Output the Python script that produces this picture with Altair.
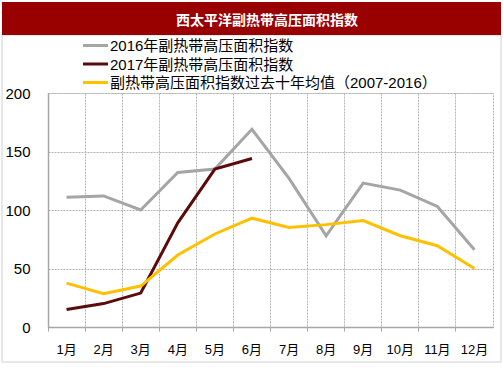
import altair as alt
import pandas as pd

months = ["1月", "2月", "3月", "4月", "5月", "6月", "7月", "8月", "9月", "10月", "11月", "12月"]
s2016 = [111, 112, 100, 132, 135, 169, 127, 78, 123, 117, 103, 66]
s2017 = [15, 20, 29, 89, 135, 144, None, None, None, None, None, None]
savg = [37.5, 28.5, 35, 61.5, 79.5, 93, 85, 87.5, 91, 78, 69.5, 50]

names = ["2016年副热带高压面积指数", "2017年副热带高压面积指数", "副热带高压面积指数过去十年均值（2007-2016）"]
colors = ["#A5A5A5", "#5C0A0A", "#FFC000"]
title_text = "西太平洋副热带高压面积指数"

rows = []
for name, series in zip(names, [s2016, s2017, savg]):
    for m, v in zip(months, series):
        if v is not None:
            rows.append({"month": m, "value": v, "series": name})
df = pd.DataFrame(rows)

FONT = "Liberation Sans, Arial, Noto Sans CJK SC"
GRID = "#B4B4B4"
AXIS = "#A6A6A6"

one = pd.DataFrame({"a": [0]})

frame = alt.Chart(one).mark_rect(fill="transparent", stroke="#D0D0D0", strokeWidth=1).encode(
    x=alt.value(-46), x2=alt.value(453), y=alt.value(-58), y2=alt.value(269)
)
bar = alt.Chart(one).mark_rect(fill="#990000").encode(
    x=alt.value(-46), x2=alt.value(453), y=alt.value(-91), y2=alt.value(-58)
)
title = alt.Chart(one).mark_text(
    text=title_text, color="white", fontSize=14, fontWeight="bold",
    font="Noto Sans CJK SC", align="center", baseline="middle"
).encode(x=alt.value(219), y=alt.value(-72))

# manual legend
legend_layers = []
row_y = [-47.5, -29, -10.5]
for name, col, ry in zip(names, colors, row_y):
    legend_layers.append(
        alt.Chart(one).mark_rule(color=col, strokeWidth=3).encode(
            x=alt.value(35), x2=alt.value(60), y=alt.value(ry))
    )
    legend_layers.append(
        alt.Chart(one).mark_text(text=name, font=FONT, fontSize=15, color="#000",
                                 align="left", baseline="middle").encode(
            x=alt.value(62), y=alt.value(ry + 0.5))
    )

lines = alt.Chart(df).mark_line(strokeWidth=3).encode(
    x=alt.X("month:N", sort=months,
            scale=alt.Scale(type="band", domain=months, paddingInner=0, paddingOuter=0),
            axis=alt.Axis(title=None, bandPosition=0, labelOffset=0, labelFontSize=13,
                          labelFont=FONT, labelColor="#000", labelPadding=12, labelAngle=0,
                          grid=True, gridDash=[2, 1], gridColor=GRID, gridWidth=1, gridOpacity=1,
                          domainColor=AXIS, domainWidth=1.5,
                          tickColor=AXIS, tickSize=4)),
    y=alt.Y("value:Q", scale=alt.Scale(domain=[0, 200], nice=False),
            axis=alt.Axis(title=None, values=[0, 50, 100, 150, 200], labelFontSize=15,
                          labelFont=FONT, labelColor="#000", labelPadding=18,
                          grid=True, gridDash=[2, 1], gridColor=GRID, gridWidth=1, gridOpacity=1,
                          domainColor=AXIS, domainWidth=1.5, ticks=False)),
    color=alt.Color("series:N", sort=names,
                    scale=alt.Scale(domain=names, range=colors),
                    legend=None),
    order=alt.Order("series:N"),
)

chart = alt.layer(frame, bar, title, *legend_layers, lines).properties(
    width=445, height=234,
    background="white",
    autosize=alt.AutoSizeParams(type="none"),
    padding={"left": 48, "top": 93, "right": 10, "bottom": 51},
).configure_view(stroke=GRID, strokeDash=[2, 1])

chart.save("out.html", embed_options={"renderer": "svg", "actions": False})
